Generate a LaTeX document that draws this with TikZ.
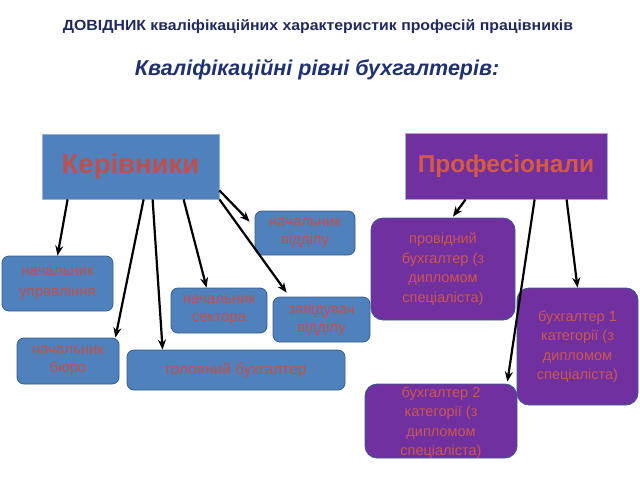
\documentclass[tikz,border=0pt]{standalone}
\usepackage{fontspec}
\setmainfont{Liberation Sans}
\usetikzlibrary{arrows.meta,calc}
\definecolor{bluefill}{HTML}{4F81BD}
\definecolor{blueedge}{HTML}{385D8A}
\definecolor{purplefill}{HTML}{7030A0}
\definecolor{redtext}{HTML}{C0504D}
\definecolor{proftext}{HTML}{D45A45}
\definecolor{purpletext}{HTML}{CC5650}
\definecolor{navy}{HTML}{1F2A5E}
\definecolor{navytwo}{HTML}{1F3170}
\begin{document}
\begin{tikzpicture}[x=1pt,y=-1pt,
  headbox/.style={rectangle, fill=#1, draw=bluefill!60!white, line width=0.8pt, inner sep=0pt, font=\bfseries\fontsize{27.5}{30}\selectfont},
  smallbox/.style={rectangle, rounded corners=7pt, fill=bluefill, draw=blueedge, line width=0.8pt, text=redtext, font=\fontsize{15}{18}\selectfont, align=center, inner sep=0pt},
  purplebox/.style={rectangle, rounded corners=12pt, fill=purplefill, draw=blueedge, line width=0.8pt, text=purpletext, font=\fontsize{14.5}{19.5}\selectfont, align=center, inner sep=0pt},
  arr/.style={-{Stealth[length=10pt,width=8pt]}, line width=2.2pt, black},
  title/.style={inner sep=0pt}]
\useasboundingbox[fill=white] (0,0) rectangle (640,480);

\node[title, text=navy, font=\bfseries\fontsize{16}{18}\selectfont] (t1) at (318,27) {\scalebox{0.99}[0.92]{ДОВІДНИК кваліфікаційних характеристик професій працівників}};
\node[title, text=navytwo, font=\bfseries\itshape\fontsize{21.5}{24}\selectfont] (t2) at (317,70) {Кваліфікаційні рівні бухгалтерів:};

\node[headbox=bluefill, text=redtext, minimum width=177, minimum height=65] (ker) at (130.5,166.5) {Керівники};
\node[headbox=purplefill, text=proftext, minimum width=202, minimum height=66, font=\bfseries\fontsize{24.5}{27}\selectfont] (prof) at (506,166) {Професіонали};

\node[smallbox, minimum width=100, minimum height=44] (nvid) at (305,233) {начальник\\відділу};
\node[smallbox, minimum width=111, minimum height=55, font=\fontsize{15}{21}\selectfont] (upr) at (57.5,283.5) {начальник\\управління};
\node[smallbox, minimum width=96, minimum height=45] (sekt) at (219,310.5) {начальник\\сектора};
\node[smallbox, minimum width=97, minimum height=45] (zav) at (321.5,319.5) {завідувач\\відділу};
\node[smallbox, minimum width=102, minimum height=46] (byuro) at (68,361) {начальник\\бюро};
\node[smallbox, minimum width=218, minimum height=40, font=\fontsize{15.5}{17}\selectfont] (golov) at (236,370) {головний бухгалтер};

\node[purplebox, minimum width=144, minimum height=102] (prov) at (443,269) {провідний\\бухгалтер (з\\дипломом\\спеціаліста)};
\node[purplebox, minimum width=121, minimum height=117] (b1) at (577.5,346.5) {бухгалтер 1\\категорії (з\\дипломом\\спеціаліста)};
\node[purplebox, minimum width=152, minimum height=74, text depth=0pt] (b2) at (441,421) {бухгалтер 2\\категорії (з\\дипломом\\спеціаліста)};

\draw[arr] ([xshift=26]ker.south west) -- (upr.north);
\draw[arr] ([xshift=102]ker.south west) -- ([xshift=-4]byuro.north east);
\draw[arr] ([xshift=111]ker.south west) -- ([xshift=36]golov.north west);
\draw[arr] ([xshift=142]ker.south west) -- ([xshift=36]sekt.north west);
\draw[arr] ($(ker.south east)+(0,-9)$) -- ($(nvid.north west)+(-5,11)$);
\draw[arr] (ker.south east) -- ($(zav.north west)+(14,-4)$);

\draw[arr] ([xshift=61]prof.south west) -- ($(prov.north)+(10,-1)$);
\draw[arr] ([xshift=130]prof.south west) -- ($(b2.north east)+(-10,-2)$);
\draw[arr] ([xshift=162]prof.south west) -- (b1.north);
\end{tikzpicture}
\end{document}
